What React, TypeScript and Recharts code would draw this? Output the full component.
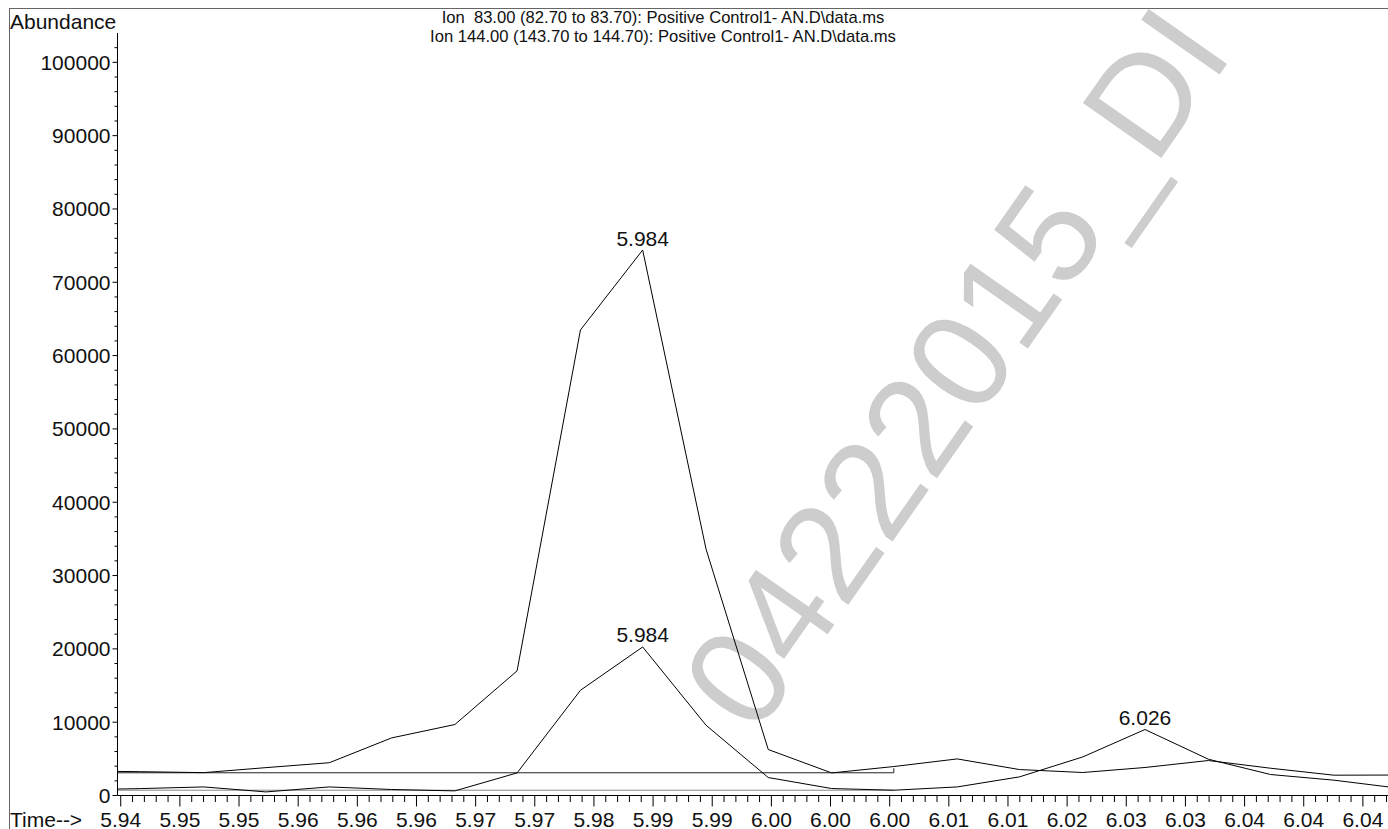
import { LineChart, Line, XAxis, YAxis } from 'recharts';

const FONT = '"Liberation Sans", Arial, Helvetica, sans-serif';

// scan times (min) and abundances for the two extracted ions
const SCAN_TIMES = [5.9368, 5.942, 5.9473, 5.9525, 5.9578, 5.963, 5.9683, 5.9735, 5.9788, 5.984, 5.9893, 5.9945, 5.9998, 6.005, 6.0103, 6.0155, 6.0208, 6.026, 6.0313, 6.0365, 6.0418, 6.047];
const ION_83 = [3350, 3250, 3120, 3800, 4470, 7850, 9680, 17000, 63500, 74400, 33600, 6270, 3080, 3950, 4990, 3540, 3135, 3820, 4770, 3720, 2770, 2790];
const ION_144 = [780, 940, 1170, 490, 1170, 820, 630, 3080, 14350, 20260, 9580, 2450, 950, 720, 1170, 2540, 5260, 9000, 4950, 2860, 2090, 1040];

// peak labels: scan index -> retention time text
const ION_83_PEAKS: Record<number, string> = { 9: '5.984' };
const ION_144_PEAKS: Record<number, string> = { 9: '5.984', 17: '6.026' };

// integration baselines
const BASE_83 = [{ t: 5.9368, v: 3100 }, { t: 6.005, v: 3100 }, { t: 6.005, v: 3720 }];
const BASE_144 = [{ t: 5.9368, v: 720 }, { t: 6.005, v: 720 }];

const X_LABELS = ['5.94', '5.95', '5.95', '5.96', '5.96', '5.96', '5.97', '5.97', '5.98', '5.99', '5.99', '6.00', '6.00', '6.00', '6.01', '6.01', '6.02', '6.03', '6.03', '6.04', '6.04', '6.04'];
const X_FIRST_TICK = 5.94036;
const X_TICK_STEP = 0.0049457;
const X_DOMAIN: [number, number] = [5.94009, 6.04632];

const Y_LABELS = [0, 10000, 20000, 30000, 40000, 50000, 60000, 70000, 80000, 90000, 100000];
const Y_MAX = 104000;

const TITLE = [
  'Ion  83.00 (82.70 to 83.70): Positive Control1- AN.D\\data.ms',
  'Ion 144.00 (143.70 to 144.70): Positive Control1- AN.D\\data.ms',
];
const WATERMARK = '04222015_DI';

const data = SCAN_TIMES.map((t, i) => ({ t, ion83: ION_83[i], ion144: ION_144[i] }));

const xTicks: number[] = [];
for (let i = 0; ; i++) {
  const t = X_FIRST_TICK + (i * X_TICK_STEP) / 5;
  if (t > X_DOMAIN[1]) break;
  xTicks.push(t);
}
const yTicks: number[] = [];
for (let v = 0; v <= 102000; v += 2000) yTicks.push(v);

function XTick(props: any) {
  const { x, y, index } = props;
  const major = index % 5 === 0;
  return (
    <g>
      <line x1={x} y1={y} x2={x} y2={y + (major ? 11 : 6.5)} stroke="#000" strokeWidth={1} />
      {major && (
        <text x={x} y={y + 31.5} textAnchor="middle" fontSize={21} fontFamily={FONT} fill="#111">
          {X_LABELS[index / 5]}
        </text>
      )}
    </g>
  );
}

function YTick(props: any) {
  const { x, y, index } = props;
  const major = index % 5 === 0;
  return (
    <g>
      <line x1={x} y1={y} x2={x - (major ? 5 : 3)} y2={y} stroke="#000" strokeWidth={1} />
      {major && (
        <text x={x - 7} y={y} dy="0.355em" textAnchor="end" fontSize={21} fontFamily={FONT} fill="#111">
          {Y_LABELS[index / 5]}
        </text>
      )}
    </g>
  );
}

const peakDot = (peaks: Record<number, string>) => (props: any) => {
  const { cx, cy, index } = props;
  const label = peaks[index];
  if (!label) return <g key={`p${index}`} />;
  return (
    <text key={`p${index}`} x={cx} y={cy - 4.5} textAnchor="middle" fontSize={21} fontFamily={FONT} fill="#111">
      {label}
    </text>
  );
};

export default function App() {
  return (
    <div style={{ position: 'absolute', left: 0, top: 0, width: 1388, height: 829, background: '#fff', overflow: 'hidden' }}>
      <svg width={1388} height={829} style={{ position: 'absolute', left: 0, top: 0 }}>
        <text
          x={755.6}
          y={737.2}
          transform="rotate(-55 755.6 737.2)"
          fontSize={139}
          fontFamily={FONT}
          fill="#cdcdcd"
        >
          {WATERMARK}
        </text>
      </svg>
      <div style={{ position: 'absolute', left: 0, top: 0 }}>
        <LineChart width={1388} height={829} data={data} margin={{ top: 33, right: 0, bottom: 0, left: 0 }}>
          <XAxis
            dataKey="t"
            type="number"
            domain={X_DOMAIN}
            allowDataOverflow
            ticks={xTicks}
            interval={0}
            height={33.5}
            tickSize={0}
            tickMargin={0}
            tickLine={false}
            tick={(p: any) => <XTick {...p} />}
            axisLine={{ stroke: '#000', strokeWidth: 1 }}
          />
          <YAxis
            type="number"
            domain={[0, Y_MAX]}
            allowDataOverflow
            ticks={yTicks}
            interval={0}
            width={117.5}
            tickSize={0}
            tickMargin={0}
            tickLine={false}
            tick={(p: any) => <YTick {...p} />}
            axisLine={{ stroke: '#000', strokeWidth: 1 }}
          />
          <Line data={BASE_144} dataKey="v" type="linear" stroke="#8a8a8a" strokeWidth={1} dot={false} activeDot={false} isAnimationActive={false} />
          <Line data={BASE_83} dataKey="v" type="linear" stroke="#222" strokeWidth={1} dot={false} activeDot={false} isAnimationActive={false} />
          <Line dataKey="ion144" type="linear" stroke="#000" strokeWidth={1} dot={peakDot(ION_144_PEAKS)} activeDot={false} isAnimationActive={false} />
          <Line dataKey="ion83" type="linear" stroke="#000" strokeWidth={1} dot={peakDot(ION_83_PEAKS)} activeDot={false} isAnimationActive={false} />
        </LineChart>
      </div>
      <svg width={1388} height={829} style={{ position: 'absolute', left: 0, top: 0, pointerEvents: 'none' }}>
        <line x1={9} y1={8.5} x2={1388} y2={8.5} stroke="#666" strokeWidth={1} />
        <line x1={9.5} y1={8} x2={9.5} y2={829} stroke="#666" strokeWidth={1} />
        <text x={10} y={29} fontSize={21} fontFamily={FONT} fill="#111">Abundance</text>
        <text x={10} y={826.5} fontSize={21} fontFamily={FONT} fill="#111">Time--&gt;</text>
        {TITLE.map((line, i) => (
          <text key={i} x={663} y={22.5 + i * 19} textAnchor="middle" fontSize={16.6} fontFamily={FONT} fill="#111" style={{ whiteSpace: 'pre' }}>
            {line}
          </text>
        ))}
      </svg>
    </div>
  );
}
